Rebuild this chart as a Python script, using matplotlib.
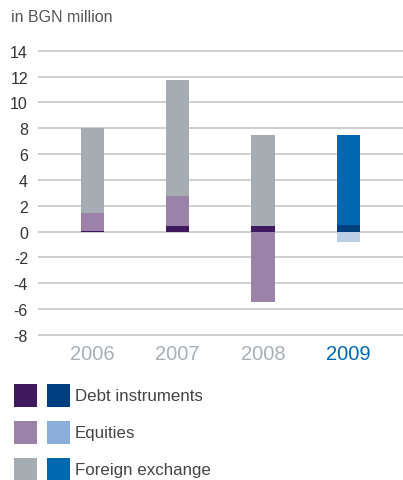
import matplotlib
matplotlib.use("Agg")
import matplotlib.pyplot as plt
from matplotlib.patches import Rectangle

plt.rcParams['font.family'] = ['Liberation Sans', 'DejaVu Sans']

# Data (BGN million)
years = ["2006", "2007", "2008", "2009"]
debt = [0.08, 0.44, 0.44, 0.52]
equities = [1.37, 2.30, -5.46, -0.77]
fx = [6.60, 9.00, 7.06, 6.98]
series_labels = ["Debt instruments", "Equities", "Foreign exchange"]
yticks = list(range(-8, 15, 2))

# Colours: earlier years in purple/grey, current year in blue
old_cols = ["#3f185e", "#9a82a8", "#a5adb2"]
new_cols = ["#003f7f", "#bccde8", "#0068b1"]
legend_new = ["#003f7f", "#8badd9", "#0068b1"]
year_cols = ["#a9b1b7", "#a9b1b7", "#a9b1b7", "#0068b1"]

fig = plt.figure(figsize=(4.03, 4.81), dpi=100)
ax = fig.add_axes([0.0935, 0.300, 0.9065, 0.594])

width = 0.27
for i in range(len(years)):
    cols = new_cols if i == len(years) - 1 else old_cols
    pos, neg = 0.0, 0.0
    for v, c in zip([debt[i], equities[i], fx[i]], cols):
        if v >= 0:
            ax.bar(i, v, width, bottom=pos, color=c, zorder=3, linewidth=0)
            pos += v
        else:
            ax.bar(i, v, width, bottom=neg, color=c, zorder=3, linewidth=0)
            neg += v

ax.set_xlim(-0.64, 3.64)
ax.set_ylim(-8.06, 14.06)
ax.set_yticks(yticks)
ax.set_yticklabels([str(t) for t in yticks], fontsize=11.5, color="#333333")
ax.yaxis.grid(True, color="#c3c8cc", linewidth=1.2, zorder=0)
ax.set_axisbelow(True)
ax.tick_params(axis="y", length=0, pad=7)
ax.set_xticks(range(len(years)))
ax.set_xticklabels(years, fontsize=14.5)
for lbl, c in zip(ax.get_xticklabels(), year_cols):
    lbl.set_color(c)
ax.tick_params(axis="x", length=0, pad=6)
for s in ax.spines.values():
    s.set_visible(False)

fig.text(11 / 403, 1 - 18 / 481, "in BGN million", fontsize=11.5, color="#555555",
         va="center", ha="left")

# Legend: two swatches per series (earlier years, current year)
W, H = 403.0, 481.0
row_tops = [385, 422, 459]
for k, lab in enumerate(series_labels):
    y0 = row_tops[k]
    for x0, c in [(14, old_cols[k]), (47, legend_new[k])]:
        fig.patches.append(Rectangle((x0 / W, 1 - (y0 + 23) / H), 23 / W, 23 / H,
                                     transform=fig.transFigure, color=c, linewidth=0))
    fig.text(75 / W, 1 - (y0 + 11.5) / H, lab, fontsize=12.2, color="#444444",
             va="center", ha="left")

fig.savefig("out.png", dpi=100)
